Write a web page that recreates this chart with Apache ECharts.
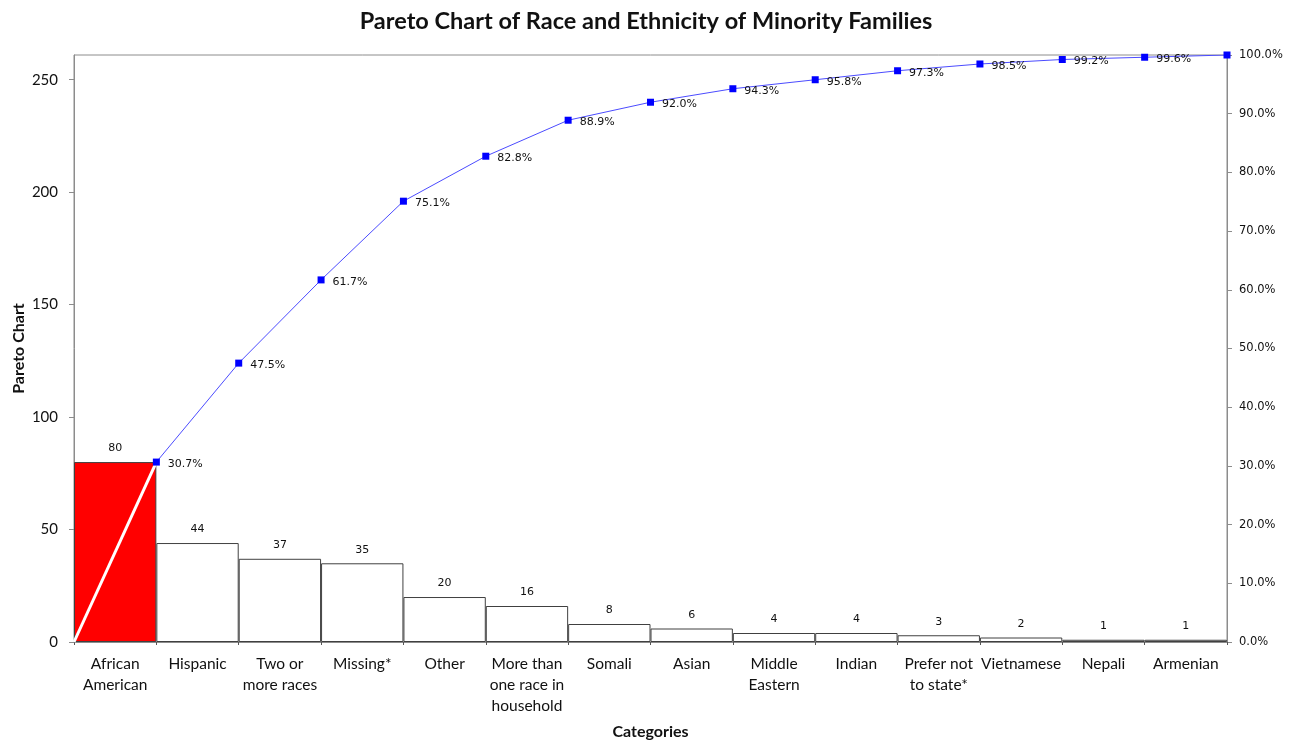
<!DOCTYPE html>
<html>
<head>
<meta charset="utf-8">
<script src="https://cdn.jsdelivr.net/npm/echarts@6/dist/echarts.min.js"></script>
<style>
  html, body { margin: 0; padding: 0; background: #fff; }
  #chart { width: 1292px; height: 741px; }
</style>
</head>
<body>
<div id="chart"></div>
<script>
// Categories (display text, with line breaks) and family counts
const categories = [
  'African\nAmerican', 'Hispanic', 'Two or\nmore races', 'Missing*', 'Other',
  'More than\none race in\nhousehold', 'Somali', 'Asian', 'Middle\nEastern', 'Indian',
  'Prefer not\nto state*', 'Vietnamese', 'Nepali', 'Armenian'
];
const counts = [80, 44, 37, 35, 20, 16, 8, 6, 4, 4, 3, 2, 1, 1];
const countTicks = [0, 50, 100, 150, 200, 250];
const percentTicks = [0, 10, 20, 30, 40, 50, 60, 70, 80, 90, 100];

// Cumulative percentage, placed at the right edge of each bar
const total = counts.reduce((a, b) => a + b, 0);
const cumulative = [];
let running = 0;
counts.forEach((c, i) => {
  running += c;
  cumulative.push([i + 1, running / total * 100]);
});

const chart = echarts.init(document.getElementById('chart'));
const labelFont = 'DejaVu Sans';
const tickFont = 'Lato';

chart.setOption({
  backgroundColor: '#fff',
  animation: false,
  title: {
    text: 'Pareto Chart of Race and Ethnicity of Minority Families',
    left: 'center',
    top: 4,
    textStyle: { fontFamily: tickFont, fontWeight: 'bold', fontSize: 23.5, color: '#111' }
  },
  grid: {
    left: 74, right: 65, top: 55, bottom: 99,
    outerBoundsMode: 'none',
    containLabel: false,
    show: true, borderColor: '#8c8c8c', borderWidth: 1, backgroundColor: 'transparent'
  },
  xAxis: [
    {
      type: 'category',
      data: categories,
      boundaryGap: true,
      name: 'Categories',
      nameLocation: 'middle',
      nameGap: 82,
      nameMoveOverlap: false,
      nameTextStyle: { fontFamily: tickFont, fontWeight: 'bold', fontSize: 16, color: '#111' },
      axisLine: { lineStyle: { color: '#8c8c8c' } },
      axisTick: { show: true, length: 3, lineStyle: { color: '#555' } },
      axisLabel: { fontFamily: tickFont, fontSize: 15.5, color: '#111', lineHeight: 21, margin: 11, interval: 0 }
    },
    {
      type: 'value',
      min: 0, max: counts.length,
      show: false
    }
  ],
  yAxis: [
    {
      type: 'value',
      min: 0, max: total, interval: 50,
      name: 'Pareto Chart',
      nameLocation: 'middle',
      nameGap: 47,
      nameMoveOverlap: false,
      nameTextStyle: { fontFamily: tickFont, fontWeight: 'bold', fontSize: 16, color: '#111' },
      axisLine: { show: true, lineStyle: { color: '#8c8c8c' } },
      axisTick: { show: true, length: 5, customValues: countTicks, lineStyle: { color: '#8c8c8c' } },
      axisLabel: { fontFamily: tickFont, fontSize: 15, color: '#111', margin: 16, customValues: countTicks },
      splitLine: { show: false }
    },
    {
      type: 'value',
      position: 'right',
      min: 0, max: 100, interval: 10,
      axisLine: { show: true, lineStyle: { color: '#8c8c8c' } },
      axisTick: { show: true, length: 5, customValues: percentTicks, lineStyle: { color: '#8c8c8c' } },
      axisLabel: {
        fontFamily: labelFont, fontSize: 11.5, color: '#111', margin: 12,
        customValues: percentTicks,
        formatter: v => v.toFixed(1) + '%'
      },
      splitLine: { show: false }
    }
  ],
  series: [
    {
      type: 'bar',
      xAxisIndex: 0, yAxisIndex: 0,
      barCategoryGap: 0,
      data: counts.map((v, i) => ({
        value: v,
        itemStyle: i === 0 ? { color: '#ff0000' } : { color: '#ffffff' }
      })),
      itemStyle: { borderColor: '#404040', borderWidth: 1 },
      label: {
        show: true, position: 'top', distance: 8,
        fontFamily: labelFont, fontSize: 11, color: '#111'
      },
      z: 2
    },
    {
      // rising segment from the origin to the first cumulative point
      type: 'line',
      xAxisIndex: 1, yAxisIndex: 1,
      data: [[0, 0], cumulative[0]],
      symbol: 'none',
      lineStyle: { color: '#ffffff', width: 3 },
      z: 3,
      silent: true
    },
    {
      type: 'line',
      xAxisIndex: 1, yAxisIndex: 1,
      data: cumulative.map((p, i) => ({
        value: p,
        label: { show: i < cumulative.length - 1 }
      })),
      symbol: 'rect',
      symbolSize: 7,
      itemStyle: { color: '#0000ff' },
      lineStyle: { color: '#4b4bff', width: 1 },
      label: {
        show: true, position: 'right', distance: 8, offset: [0, 2],
        fontFamily: labelFont, fontSize: 11, color: '#111',
        formatter: p => p.value[1].toFixed(1) + '%'
      },
      z: 4
    }
  ]
});
</script>
</body>
</html>
